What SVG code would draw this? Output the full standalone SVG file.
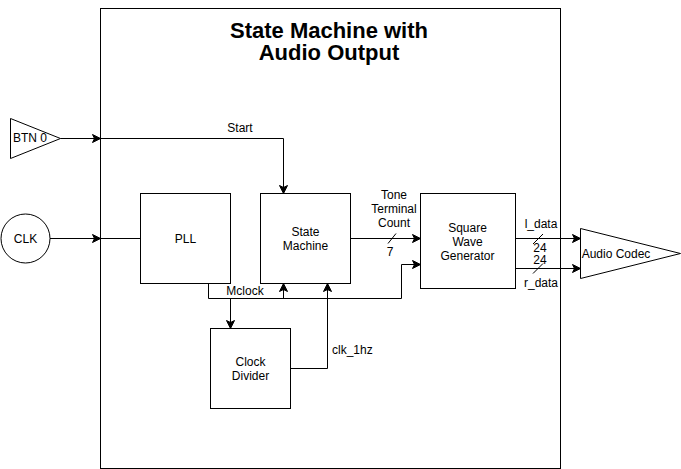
<svg xmlns="http://www.w3.org/2000/svg" width="681" height="469" viewBox="0 0 681 469">
<style>
.s{fill:#fff;stroke:#000;stroke-width:1}
.t{font-family:"Liberation Sans",Arial,Helvetica,sans-serif;font-size:12px;fill:#000;text-anchor:middle;dominant-baseline:central}
.l{fill:none;stroke:#000;stroke-width:1}
.title{font-family:"Liberation Sans",Arial,Helvetica,sans-serif;font-size:22px;font-weight:bold;fill:#000;text-anchor:middle}
</style>
<defs>
<marker id="a" markerUnits="userSpaceOnUse" markerWidth="10" markerHeight="10" viewBox="-9 -5 10 10" refX="0" refY="0" orient="auto" overflow="visible">
<path d="M-8,-4 L0,0 L-8,4 L-6,0 Z" fill="#000" stroke="#000" stroke-width="1"/>
</marker>
</defs>
<rect width="681" height="469" fill="#fff"/>
<g id="container">
<rect class="s" x="100.5" y="8.5" width="460" height="460" stroke-width="1.5"/>
<text class="title" x="329" y="37.5">State Machine with</text>
<text class="title" x="329" y="60">Audio Output</text>
</g>
<g id="btn0">
<polygon class="s" points="10.5,118.5 10.5,158.5 60.5,138.5"/>
<text class="t" x="30" y="138">BTN 0</text>
</g>
<g id="clk">
<circle class="s" cx="25.5" cy="238.5" r="24.5"/>
<text class="t" x="25.5" y="238.5">CLK</text>
</g>
<g id="pll">
<rect class="s" x="140.5" y="193.5" width="90" height="90"/>
<text class="t" x="185.5" y="238.5">PLL</text>
</g>
<g id="state-machine">
<rect class="s" x="260.5" y="193.5" width="90" height="90"/>
<text class="t" x="305.5" y="231.5">State</text>
<text class="t" x="305.5" y="245.5">Machine</text>
</g>
<g id="square-wave">
<rect class="s" x="420.5" y="193.5" width="95" height="95"/>
<text class="t" x="467.5" y="228">Square</text>
<text class="t" x="467.5" y="242">Wave</text>
<text class="t" x="467.5" y="256">Generator</text>
</g>
<g id="clock-divider">
<rect class="s" x="210.5" y="328.5" width="80" height="80"/>
<text class="t" x="250.5" y="361.5">Clock</text>
<text class="t" x="250.5" y="376">Divider</text>
</g>
<g id="audio-codec">
<polygon class="s" points="580.5,228.5 580.5,278.5 680.5,253.5"/>
<text class="t" x="616" y="253.5">Audio Codec</text>
</g>
<g id="connectors">
<path class="l" d="M60.5,138.5 H100.5" marker-end="url(#a)"/>
<path class="l" d="M100.5,138.5 H283.5 V193.5" marker-end="url(#a)"/>
<text class="t" x="240" y="128">Start</text>
<path class="l" d="M50,238.5 H100.5" marker-end="url(#a)"/>
<path class="l" d="M100.5,238.5 H140.5"/>
<path class="l" d="M350.5,238.5 H420.5" marker-end="url(#a)"/>
<path class="l" d="M388,243.5 L396,233.5"/>
<text class="t" x="394" y="195">Tone</text>
<text class="t" x="394" y="209">Terminal</text>
<text class="t" x="394" y="223">Count</text>
<text class="t" x="390" y="252">7</text>
<path class="l" d="M208.5,283.5 V298.5 H401.5 V264.5 H420.5" marker-end="url(#a)"/>
<path class="l" d="M283.5,298.5 V283.5" marker-end="url(#a)"/>
<path class="l" d="M230.5,298.5 V328.5" marker-end="url(#a)"/>
<text class="t" x="245" y="291">Mclock</text>
<path class="l" d="M290.5,368.5 H327.5 V283.5" marker-end="url(#a)"/>
<text class="t" x="332" y="350" style="text-anchor:start">clk_1hz</text>
<path class="l" d="M515.5,238.5 H580.5" marker-end="url(#a)"/>
<path class="l" d="M533,244 L543,234"/>
<text class="t" x="541" y="223.5">l_data</text>
<text class="t" x="540" y="247.5">24</text>
<path class="l" d="M515.5,268.5 H580.5" marker-end="url(#a)"/>
<path class="l" d="M533,273.5 L543,263.5"/>
<text class="t" x="540" y="259.5">24</text>
<text class="t" x="541" y="282.5">r_data</text>
</g>
</svg>
